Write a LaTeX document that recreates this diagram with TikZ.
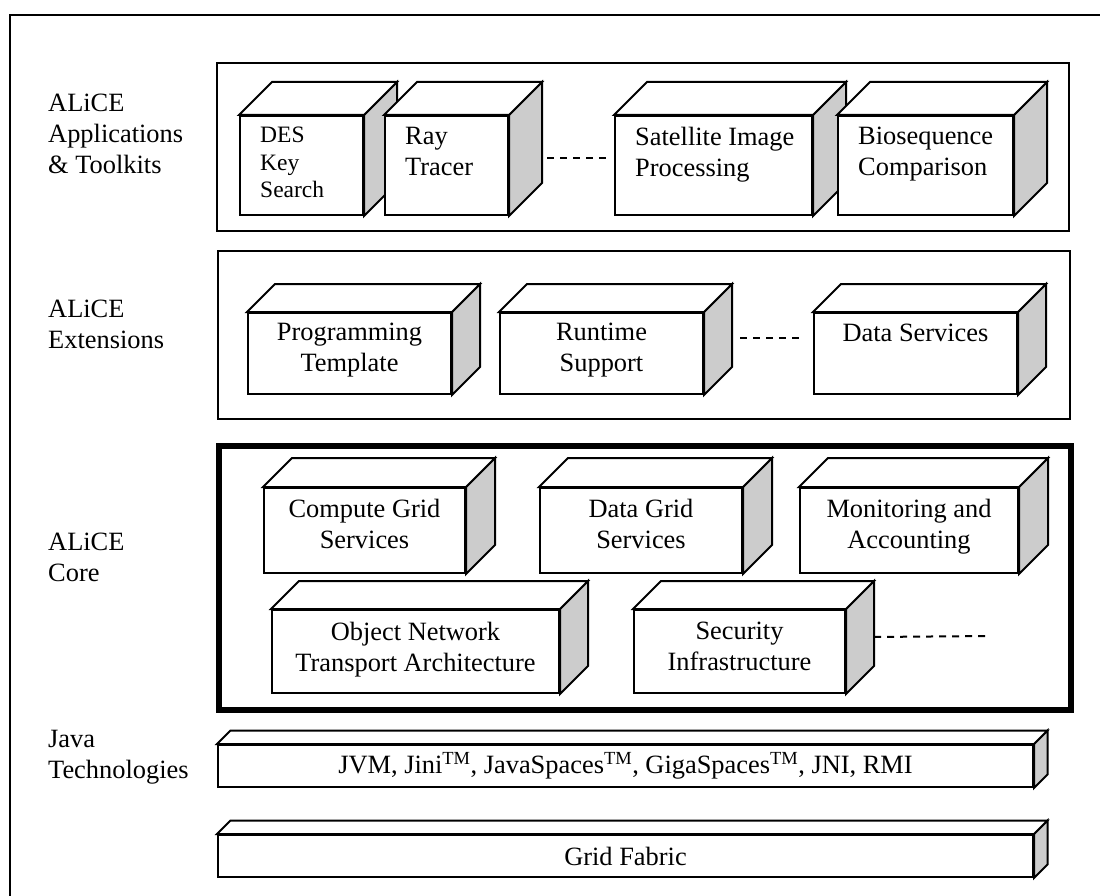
\documentclass[tikz,border=0pt]{standalone}
\usepackage{fontspec}
\setmainfont{Liberation Serif}
\usetikzlibrary{positioning}

\definecolor{sidegray}{gray}{0.8}

\tikzset{
  layerbox/.style={draw, line width=2.2pt, inner sep=0pt, anchor=north west},
  corebox/.style={layerbox, line width=5.5pt},
  front/.style={draw, fill=white, line width=2pt, inner sep=0pt, anchor=north west},
  topface/.style={draw, fill=white, line width=2pt},
  sideface/.style={draw, fill=sidegray, line width=2pt},
  layertext/.style={anchor=north west, align=left, inner sep=0pt, font=\fontsize{26.4}{31}\selectfont},
  cubetext/.style={inner sep=0pt, align=center, font=\fontsize{26.4}{31}\selectfont},
  dashline/.style={line width=2pt, dash pattern=on 7pt off 6pt}
}

% top and side of a block, drawn onto its front node
\newcommand{\cubefaces}[2]{%
  \draw[sideface] (#1.north east) -- ++(#2,-#2) -- ([shift={(#2,-#2)}]#1.south east) -- (#1.south east) -- cycle;
  \draw[topface] (#1.north west) -- ++(#2,-#2) -- ([shift={(#2,-#2)}]#1.north east) -- (#1.north east) -- cycle;
}

\begin{document}
\begin{tikzpicture}[x=1pt, y=-1pt]
  \useasboundingbox (0,0) rectangle (1100,896);
  \draw[line width=2.2pt] (1100,15) -- (10,15) -- (10,896);

  % layers
  \node[layerbox, minimum width=852pt, minimum height=168pt] (apps) at (216,62) {};
  \node[layerbox, minimum width=852pt, minimum height=168pt] (ext) at (217,250) {};
  \node[corebox, minimum width=852pt, minimum height=264pt] (core) at (216,443) {};

  \node[layertext] (applbl) at (48,94) {ALiCE\\Applications\\\& Toolkits};
  \node[layertext] (extlbl) at (48,300) {ALiCE\\Extensions};
  \node[layertext] (corelbl) at (48,533) {ALiCE\\Core};
  \node[layertext] (javalbl) at (48,730) {Java\\Technologies};

  % applications
  \node[front, minimum width=123pt, minimum height=99pt] (des) at (239,115) {};
  \cubefaces{des}{33}
  \node[cubetext, align=left, below right=12pt and 21pt of des.north west, font=\fontsize{23.5}{27.5}\selectfont] (destext) {DES\\Key\\Search};
  \node[front, minimum width=123pt, minimum height=99pt] (ray) at (384,115) {};
  \cubefaces{ray}{33}
  \node[cubetext, align=left, below right=12pt and 21pt of ray.north west] (raytext) {Ray\\Tracer};
  \node[front, minimum width=197pt, minimum height=99pt] (sat) at (614,115) {};
  \cubefaces{sat}{33}
  \node[cubetext, align=left, below right=12pt and 21pt of sat.north west] (sattext) {Satellite Image\\Processing};
  \node[front, minimum width=175pt, minimum height=99pt] (bio) at (837,115) {};
  \cubefaces{bio}{33}
  \node[cubetext, align=left, below right=12pt and 21pt of bio.north west] (biotext) {Biosequence\\Comparison};
  \draw[dashline] ([shift={(38,-7.5)}]ray.east) -- ([shift={(-6,-7.5)}]sat.west);

  % extensions
  \node[front, minimum width=203pt, minimum height=81pt] (prog) at (247,312) {};
  \cubefaces{prog}{28}
  \node[cubetext, below=11pt of prog.north] (progtext) {Programming\\Template};
  \node[front, minimum width=203pt, minimum height=81pt] (run) at (499,312) {};
  \cubefaces{run}{28}
  \node[cubetext, below=11pt of run.north] (runtext) {Runtime\\Support};
  \node[front, minimum width=203pt, minimum height=81pt] (dserv) at (813,312) {};
  \cubefaces{dserv}{28}
  \node[cubetext, below=12pt of dserv.north] (dservtext) {Data Services};
  \draw[dashline] ([shift={(36,-15.5)}]run.east) -- ([shift={(-12,-15.5)}]dserv.west);

  % core
  \node[front, minimum width=201pt, minimum height=85pt] (comp) at (263,487) {};
  \cubefaces{comp}{29}
  \node[cubetext, below=12pt of comp.north] (comptext) {Compute Grid\\Services};
  \node[front, minimum width=202pt, minimum height=85pt] (dgrid) at (539,487) {};
  \cubefaces{dgrid}{29}
  \node[cubetext, below=12pt of dgrid.north] (dgridtext) {Data Grid\\Services};
  \node[front, minimum width=218pt, minimum height=85pt] (mon) at (799,487) {};
  \cubefaces{mon}{29}
  \node[cubetext, below=12pt of mon.north] (montext) {Monitoring and\\Accounting};
  \node[front, minimum width=287pt, minimum height=83pt] (obj) at (271,609) {};
  \cubefaces{obj}{28}
  \node[cubetext, below=13pt of obj.north] (objtext) {Object Network\\Transport Architecture};
  \node[front, minimum width=211pt, minimum height=83pt] (sec) at (633,609) {};
  \cubefaces{sec}{28}
  \node[cubetext, below=13pt of sec.north] (sectext) {Security\\Infrastructure};
  \coordinate (secend) at (987,636);
  \draw[dashline] ([shift={(28,-14.5)}]sec.east) -- (secend);

  % java and fabric
  \node[front, minimum width=815pt, minimum height=42pt, font=\fontsize{26.4}{31}\selectfont] (java) at (217,744)
    {JVM, Jini\textsuperscript{TM}, JavaSpaces\textsuperscript{TM}, GigaSpaces\textsuperscript{TM}, JNI, RMI};
  \cubefaces{java}{13.5}
  \node[front, minimum width=815pt, minimum height=42pt, font=\fontsize{26.4}{31}\selectfont] (fabric) at (217,834) {Grid Fabric};
  \cubefaces{fabric}{13.5}
\end{tikzpicture}
\end{document}
